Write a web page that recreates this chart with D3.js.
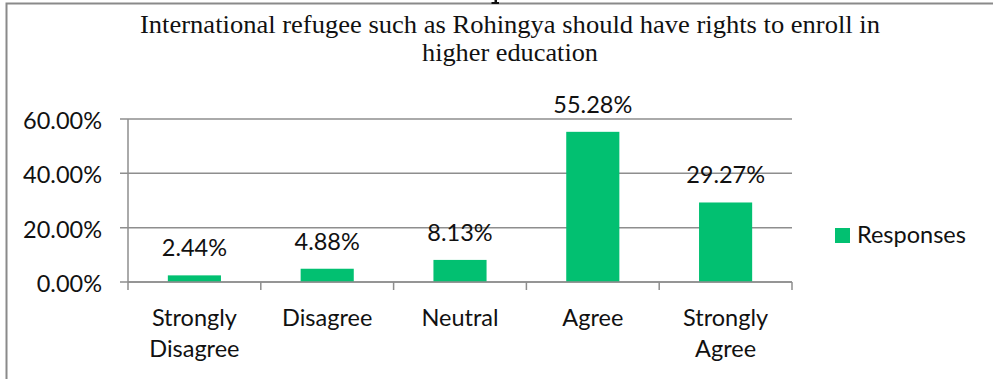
<!DOCTYPE html>
<html>
<head>
<meta charset="utf-8">
<script src="https://cdn.jsdelivr.net/npm/d3@7"></script>
<style>
  html, body { margin: 0; padding: 0; background: #fff; }
  svg { display: block; }
  .lbl { font-family: Lato, "Open Sans", sans-serif; fill: #111; }
  .title { font-family: "Liberation Serif", "Times New Roman", serif; fill: #111; }
</style>
</head>
<body>
<svg id="chart" width="993" height="379"></svg>
<script>
// Survey item: International refugee ... should have rights to enroll in higher education
const categories = ["Strongly Disagree", "Disagree", "Neutral", "Agree", "Strongly Agree"];
const responses = [2.44, 4.88, 8.13, 55.28, 29.27];
const yTicks = [0, 20, 40, 60];
const seriesName = "Responses";
const titleLines = ["International refugee such as Rohingya should have rights to enroll in", "higher education"];

const svg = d3.select("#chart");
const W = 993, H = 379;
const green = "#02c071";
const gridColor = "#8e8e8e";

// chart frame (top and left edges visible)
svg.append("path")
  .attr("d", `M6.5,${H} L6.5,3.5 L${W},3.5`)
  .attr("fill", "none").attr("stroke", "#8a8a8a").attr("stroke-width", 2);

// small dark mark sitting on the top frame edge
svg.append("path")
  .attr("d", "M494.5,0 L497,0 L497,2 L499,2 L499,4 L491.5,4 L491.5,2 L494.5,2 Z")
  .attr("fill", "#111");

// title
const title = svg.append("g");
const titleWidths = [740, 176];
titleLines.forEach((t, i) => {
  title.append("text").attr("class", "title")
    .attr("x", 510).attr("y", 33 + i * 28)
    .attr("text-anchor", "middle").attr("font-size", 25)
    .attr("textLength", titleWidths[i]).attr("lengthAdjust", "spacingAndGlyphs")
    .text(t);
});

const plot = { left: 128, right: 792, top: 119, bottom: 282 };

const x = d3.scaleBand().domain(categories).range([plot.left, plot.right]).paddingInner(0.6).paddingOuter(0.3);
const xEdge = d3.scaleLinear().domain([0, categories.length]).range([plot.left, plot.right]);
const y = d3.scaleLinear().domain([0, 60]).range([plot.bottom, plot.top]);

// horizontal gridlines with tick stubs to the left
svg.append("g").selectAll("line").data(yTicks).join("line")
  .attr("x1", plot.left - 8).attr("x2", plot.right)
  .attr("y1", d => y(d)).attr("y2", d => y(d))
  .attr("stroke", gridColor).attr("stroke-width", 1.5);

// y axis line
svg.append("line")
  .attr("x1", plot.left).attr("x2", plot.left)
  .attr("y1", plot.top).attr("y2", plot.bottom)
  .attr("stroke", gridColor).attr("stroke-width", 1.5);

// y tick labels
svg.append("g").selectAll("text").data(yTicks).join("text")
  .attr("class", "lbl").attr("font-size", 23.5)
  .attr("x", 102).attr("y", d => y(d)).attr("dy", "0.42em")
  .attr("text-anchor", "end")
  .text(d => d.toFixed(2) + "%");

// bars
svg.append("g").selectAll("rect").data(responses).join("rect")
  .attr("x", (d, i) => x(categories[i]))
  .attr("width", x.bandwidth())
  .attr("y", d => y(d))
  .attr("height", d => y(0) - y(d))
  .attr("fill", green);

// x axis line and category boundary ticks
svg.append("line")
  .attr("x1", plot.left).attr("x2", plot.right)
  .attr("y1", plot.bottom).attr("y2", plot.bottom)
  .attr("stroke", gridColor).attr("stroke-width", 1.5);
svg.append("g").selectAll("line").data(d3.range(categories.length + 1)).join("line")
  .attr("x1", d => xEdge(d)).attr("x2", d => xEdge(d))
  .attr("y1", plot.bottom).attr("y2", plot.bottom + 8)
  .attr("stroke", gridColor).attr("stroke-width", 1.5);

// value labels
svg.append("g").selectAll("text").data(responses).join("text")
  .attr("class", "lbl").attr("font-size", 23.5)
  .attr("x", (d, i) => x(categories[i]) + x.bandwidth() / 2)
  .attr("y", d => y(d) - 19)
  .attr("text-anchor", "middle")
  .text(d => d.toFixed(2) + "%");

// category labels, wrapped at spaces
const cat = svg.append("g").selectAll("text").data(categories).join("text")
  .attr("class", "lbl").attr("font-size", 23.5)
  .attr("text-anchor", "middle")
  .attr("x", d => x(d) + x.bandwidth() / 2)
  .attr("y", 326);
cat.each(function(d) {
  const cx = x(d) + x.bandwidth() / 2;
  d.split(" ").forEach((w, i) => {
    d3.select(this).append("tspan").attr("x", cx).attr("dy", i === 0 ? 0 : 31).text(w);
  });
});

// legend
const lg = svg.append("g");
lg.append("rect").attr("x", 835).attr("y", 228).attr("width", 15).attr("height", 15).attr("fill", green);
lg.append("text").attr("class", "lbl").attr("font-size", 23.5)
  .attr("x", 857).attr("y", 243).text(seriesName);
</script>
</body>
</html>
